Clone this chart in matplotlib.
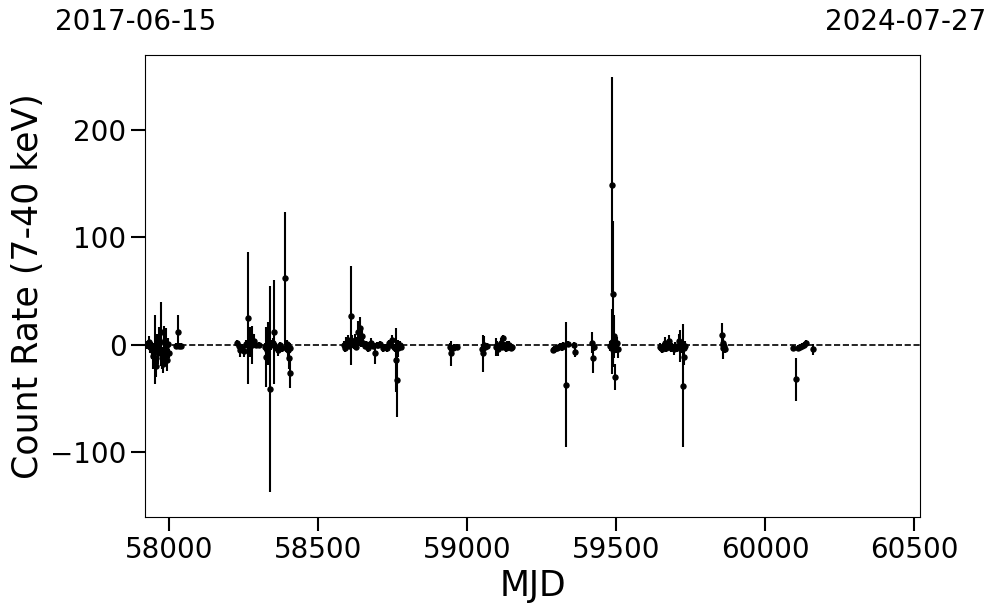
import matplotlib
matplotlib.use('Agg')
import matplotlib.pyplot as plt

# Light curve points: MJD, count rate (7-40 keV) and 1-sigma error
mjd = [57925, 57930, 57935, 57940, 57945, 57952, 57955, 57958, 57962, 57966,
       57970, 57973, 57976, 57979, 57982, 57985, 57988, 57991, 57994, 57998,
       58022, 58028, 58033, 58040,
       58227, 58232, 58237, 58243, 58250, 58257, 58262, 58266, 58270, 58274,
       58278, 58284, 58290, 58300, 58320, 58323, 58327, 58331, 58336, 58340,
       58346, 58352, 58358, 58364, 58370, 58378, 58386, 58390, 58394, 58398,
       58402, 58404, 58406,
       58585, 58589, 58594, 58599, 58604, 58610, 58614, 58618, 58622, 58626,
       58630, 58633, 58637, 58640, 58644, 58647, 58650, 58655, 58660, 58665,
       58670, 58675, 58682, 58690, 58695, 58700, 58708, 58715, 58722, 58730,
       58736, 58742, 58748, 58752, 58756, 58760, 58764, 58768, 58772, 58776,
       58942, 58946, 58950, 58956, 58965,
       59050, 59053, 59056, 59059, 59064,
       59097, 59100, 59104, 59108, 59112, 59116, 59120, 59124, 59128, 59132,
       59136, 59140, 59145, 59150,
       59287, 59292, 59297, 59302, 59307, 59312, 59317, 59322, 59331, 59336,
       59356, 59361,
       59418, 59421, 59424,
       59480, 59484, 59486, 59488, 59490, 59492, 59494, 59496, 59499, 59502,
       59505,
       59647, 59652, 59657, 59662, 59667, 59672, 59677, 59682, 59687, 59692,
       59698, 59704, 59710, 59713, 59718, 59724, 59726, 59728, 59731,
       59855, 59857, 59858, 59859, 59861, 59863,
       60093, 60103, 60108, 60116, 60124, 60130, 60136, 60159]

rate = [0, 3, -2, -5, -10, -4, -20, 2, -8, 5,
        12, -5, -12, -18, 3, -10, -2, -14, 1, -8,
        -1, 12, -1, -1,
        2, -1, -5, -3, -6, 1, 25, -2, 3, 8,
        0, 4, 0, 0, -2, -11, -5, 1, -41, 0,
        2, 12, -2, -5, 0, -3, 62, -2, 1, -5,
        -12, -26, -3,
        0, -3, 2, 5, -1, 27, 3, 0, 5, -2,
        3, 12, 5, 16, 3, 8, 2, -1, 1, -3,
        0, 2, -1, -8, 0, 0, 1, -3, -2, -3,
        2, 0, 5, -2, -3, -14, -33, -3, 0, -2,
        -2, -8, -3, -2, -2,
        -4, -8, 0, -2, -1,
        -2, 0, -4, -1, 2, -2, 6, 0, -3, 1,
        -2, 0, -3, -2,
        -5, -4, -3, -3, -2, -1, -2, 0, -37, 1,
        0, -7,
        2, -12, -2,
        -1, 3, 149, -5, 47, 8, -30, 0, -3, 2,
        -4,
        -2, -4, -2, 2, -3, -1, 4, -3, -2, -4,
        -1, -3, 4, -1, -2, -38, -11, -3, -1,
        9, 0, 2, -3, -1, -4,
        -3, -32, -3, -2, -1, 0, 2, -4]

rate_err = [4, 5, 6, 8, 12, 32, 10, 8, 10, 12,
            28, 15, 10, 8, 15, 10, 18, 10, 5, 4,
            3, 16, 3, 3,
            3, 4, 6, 4, 5, 4, 61, 6, 14, 8,
            18, 6, 3, 3, 4, 28, 6, 20, 96, 5,
            4, 48, 4, 5, 3, 4, 62, 5, 4, 8,
            10, 14, 5,
            4, 4, 5, 4, 3, 46, 6, 4, 5, 3,
            4, 10, 6, 10, 5, 6, 4, 3, 3, 4,
            3, 4, 3, 10, 3, 3, 3, 4, 3, 4,
            3, 3, 4, 3, 4, 30, 34, 8, 4, 3,
            4, 12, 3, 3, 3,
            5, 17, 8, 4, 3,
            8, 4, 6, 3, 4, 3, 3, 3, 4, 3,
            3, 4, 3, 3,
            3, 3, 3, 3, 3, 3, 4, 3, 58, 3,
            3, 4,
            10, 14, 4,
            5, 30, 100, 15, 68, 20, 12, 8, 5, 5,
            8,
            4, 4, 4, 5, 4, 4, 5, 4, 4, 5,
            4, 4, 6, 15, 6, 57, 8, 4, 5,
            11, 4, 6, 10, 5, 4,
            3, 20, 3, 3, 3, 3, 3, 5]

start_mjd, end_mjd = 57919, 60519
start_date, end_date = '2017-06-15', '2024-07-27'

fig = plt.figure(figsize=(9.97, 6.13), dpi=100)
ax = fig.add_axes([0.1458, 0.1566, 0.777, 0.7537])

ax.errorbar(mjd, rate, yerr=rate_err, fmt='o', color='black', ecolor='black',
            markersize=3.6, elinewidth=1.5, capsize=0)
ax.axhline(0, color='black', linestyle='--', linewidth=1.2)

ax.set_xlim(start_mjd, end_mjd)
ax.set_ylim(-160, 269.5)
ax.set_xticks([58000, 58500, 59000, 59500, 60000, 60500])
ax.set_yticks([-100, 0, 100, 200])
ax.tick_params(axis='both', which='major', labelsize=20, length=10, width=1.5)

ax.set_xlabel('MJD', fontsize=25)
ax.set_ylabel('Count Rate (7-40 keV)', fontsize=25)

# Start and end dates of the monitoring window
fig.text(136 / 997, 1 - 22 / 613, start_date, fontsize=20, ha='center', va='center')
fig.text(906 / 997, 1 - 22 / 613, end_date, fontsize=20, ha='center', va='center')

fig.savefig('out.png', dpi=100)
